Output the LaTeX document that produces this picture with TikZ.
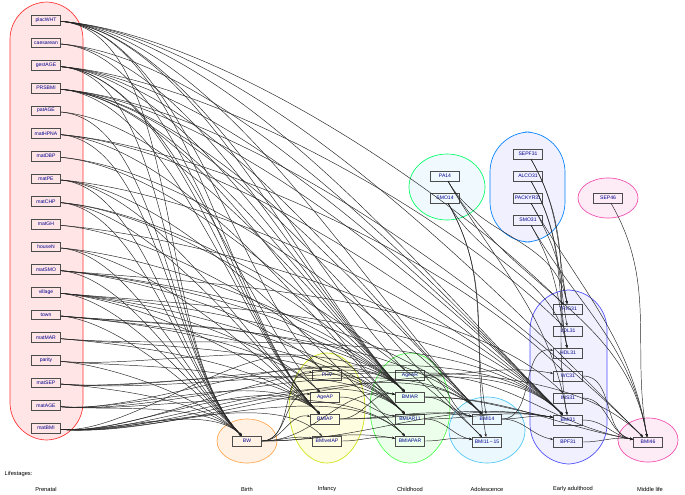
\documentclass[tikz,border=0pt]{standalone}
\usepackage{fontspec}
\setmainfont{Liberation Sans}
\usetikzlibrary{arrows.meta}
\begin{document}
\begin{tikzpicture}[x=0.75pt,y=-0.75pt,
  v/.style={draw=black!70,line width=0.4pt,minimum width=22pt,minimum height=7.2pt,inner sep=0.4pt,font=\fontsize{3.8}{4}\selectfont,text=blue!55!black},
  grp/.style={line width=0.5pt},
  edge/.style={-{Stealth[length=2.2pt,width=1.8pt]},line width=0.35pt,black!85},
  lab/.style={font=\fontsize{4.3}{5}\selectfont}]
\useasboundingbox (0,0) rectangle (685,494);
% groups
\draw[grp,draw=red!80,fill=red!10,rounded corners=28pt] (10,2) rectangle (83,440);
\draw[grp,draw=orange!70,fill=orange!10] (247,441) ellipse (30 and 22);
\draw[grp,draw=yellow!80!green,fill=yellow!12] (327,408) ellipse (38 and 55);
\draw[grp,draw=green!70,fill=green!8] (410,408) ellipse (40 and 55);
\draw[grp,draw=cyan!70,fill=cyan!8] (487,430) ellipse (38 and 33);
\draw[grp,draw=blue!70,fill=blue!6,rounded corners=30pt] (530,290) rectangle (607,464);
\draw[grp,draw=magenta!70,fill=magenta!8] (648,440) ellipse (30 and 22);
\draw[grp,draw=green!60!cyan,fill=cyan!6] (447,187) ellipse (38 and 33);
\draw[grp,draw=blue!50!cyan,fill=blue!6,rounded corners=30pt] (490,132) rectangle (565,242);
\draw[grp,draw=magenta!70,fill=magenta!8] (608,198) ellipse (30 and 20);
% prenatal
\foreach \n [count=\i] in {placWHT,caesarean,gestAGE,PRSBMI,patAGE,matHPNA,matDBP,matPE,matCHP,matGH,houseN,matSMO,village,town,matMAR,parity,matSEP,matAGE,matBMI}
  \node[v,fill=red!10] (\n) at (46,{20+22.67*(\i-1)}) {\n};
\node[v,fill=orange!10] (BW) at (247,441) {BW};
\node[v,fill=yellow!12] (PHV) at (327,375) {PHV};
\node[v,fill=yellow!12] (AgeAP) at (325,397) {AgeAP};
\node[v,fill=yellow!12] (BMIAP) at (325,419) {BMIAP};
\node[v,fill=yellow!12] (BMIveIAP) at (327,441) {BMIveIAP};
\node[v,fill=green!8] (AgeAR) at (410,375) {AgeAR};
\node[v,fill=green!8] (BMIAR) at (410,397) {BMIAR};
\node[v,fill=green!8] (BMIAR11) at (410,419) {BMIAR11};
\node[v,fill=green!8] (BMIAPAR) at (410,441) {BMIAPAR};
\node[v,fill=cyan!8] (BMI14) at (487,419) {BMI14};
\node[v,fill=cyan!8] (BMI1115) at (487,442) {BMI11\,--\,15};
\foreach \n/\y in {TRIG31/309,LDL31/331,HDL31/353,WC31/376,INS31/398,BMI31/420,BPF31/442}
  \node[v,fill=blue!6] (\n) at (568,\y) {\n};
\node[v,fill=magenta!8] (BMI46) at (648,442) {BMI46};
\node[v,fill=cyan!6] (PA14) at (445,176) {PA14};
\node[v,fill=cyan!6] (SMO14) at (445,198) {SMO14};
\foreach \n/\y in {SEPF31/154,ALCO31/176,PACKYR31/198,SMO31/220}
  \node[v,fill=blue!6] (\n) at (528,\y) {\n};
\node[v,fill=magenta!8] (SEP46) at (608,198) {SEP46};
% edges from prenatal
\foreach \s/\tl in {
 placWHT/{BW,PHV,AgeAR,BMIAR,BMI14,TRIG31,BMI31,BMI46,BMIAP},
 caesarean/{BMIAP,BMIAR,BMI31},
 gestAGE/{BW,AgeAP,BMIAP,BMIAR,BMI14,BMI31,LDL31},
 PRSBMI/{BMIAP,BMIAR,BMIAR11,BMI14,BMI1115,BMI31,BMI46},
 patAGE/{BW,BMIAR},
 matHPNA/{BW,BMIAR11,BMI31,WC31},
 matDBP/{BMIAR,BMI14},
 matPE/{BW,BMIAP,BMI31,BMIAPAR},
 matCHP/{BW,BMIAR,BMI1115,BMIAP},
 matGH/{BMIAR11,BMI31},
 houseN/{BMIAP,BMIAR,BW},
 matSMO/{BW,PHV,BMIAR,BMI14,INS31},
 village/{BW,AgeAP,BMIAP,BMIAR,BMIAR11,BMI31},
 town/{BW,AgeAP,BMIAR,BMIAR11,BMI14},
 matMAR/{BMIAP,BMIAR11,BMI31},
 parity/{BW,BMIAP,BMIAR},
 matSEP/{BW,BMIAR11,BMI31,BMI46},
 matAGE/{BW,BMIAP,BMIAR,BMIAPAR,BMI14},
 matBMI/{BW,PHV,BMIAP,BMIveIAP,BMIAR,BMIAR11,BMIAPAR,BMI14,BMI31}}
 {\foreach \t in \tl {\draw[edge] (\s) to[out=-5,in=135,looseness=0.7] (\t);}}
% later edges
\foreach \s/\t in {BW/PHV,BW/AgeAP,BW/BMIAP,BW/BMIveIAP,BW/BMIAR,BW/BMIAPAR,BW/BMI31,
 PHV/BMIAR,AgeAP/BMIAR11,BMIAP/BMIAR,BMIAP/BMI14,BMIveIAP/BMIAPAR,BMIAP/BMI31,
 AgeAR/BMI14,AgeAR/WC31,BMIAR/BMI14,BMIAR/BMI31,BMIAR11/BMI31,BMIAR11/BMI1115,BMIAPAR/BMI1115,AgeAR/BMI46,BMIAR/BMI46,
 BMI14/BMI31,BMI14/HDL31,BMI14/BPF31,BMI31/BMI46,BPF31/BMI46,INS31/BMI46,WC31/BMI46}
 {\draw[edge] (\s) to[out=0,in=170] (\t);}
\foreach \s/\t in {PA14/BMI31,PA14/BMI46,PA14/TRIG31,SMO14/BMI14,SMO14/BMI1115,SMO14/HDL31,
 SEPF31/BMI31,ALCO31/HDL31,ALCO31/LDL31,PACKYR31/BMI46,PACKYR31/TRIG31,SMO31/BMI46,SMO31/HDL31,SEP46/BMI46,SEPF31/TRIG31}
 {\draw[edge] (\s) to[out=-60,in=100] (\t);}
% labels
\node[lab,anchor=west] at (0,474) {Lifestages:};
\foreach \x/\l in {46/Prenatal,247/Birth,327/Infancy,410/Childhood,487/Adolescence,573/Early adulthood,650/Middle life}
  \node[lab] at (\x,489) {\l};
\end{tikzpicture}
\end{document}
